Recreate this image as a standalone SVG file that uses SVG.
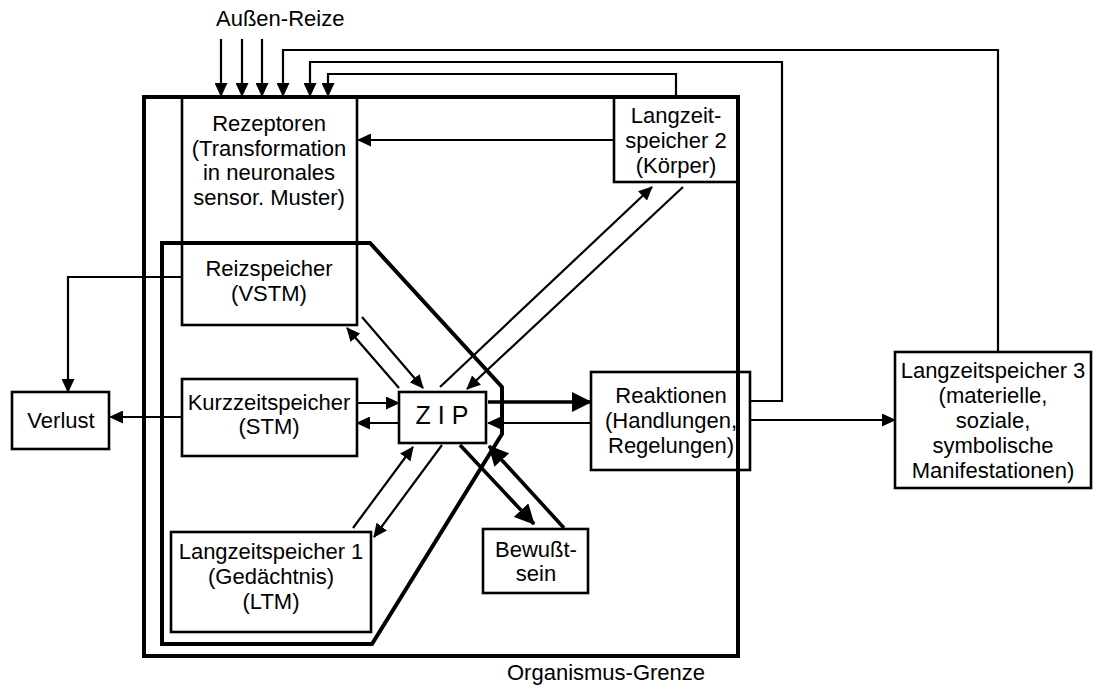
<svg xmlns="http://www.w3.org/2000/svg" width="1097" height="686" viewBox="0 0 1097 686">
  <style>
    text { font-family: "Liberation Sans", Arial, Helvetica, sans-serif; font-size: 22px; fill: #000; text-anchor: middle; }
    .box { fill: none; stroke: #000; stroke-width: 2.6; }
    .bound { fill: none; stroke: #000; stroke-width: 4; stroke-linejoin: miter; }
    .c { fill: none; stroke: #000; stroke-width: 2.2; marker-end: url(#ah); }
    .cn { fill: none; stroke: #000; stroke-width: 2.2; }
    .ct { fill: none; stroke: #000; stroke-width: 3.6; marker-end: url(#ahb); }
  </style>
  <defs>
    <marker id="ah" viewBox="0 0 14 13" refX="13" refY="6.5" markerWidth="14" markerHeight="13" markerUnits="userSpaceOnUse" orient="auto">
      <path d="M0,0 L14,6.5 L0,13 z" fill="#000"/>
    </marker>
    <marker id="ahb" viewBox="0 0 20 20" refX="19" refY="10" markerWidth="20" markerHeight="20" markerUnits="userSpaceOnUse" orient="auto">
      <path d="M0,0 L20,10 L0,20 z" fill="#000"/>
    </marker>
  </defs>
  <rect width="1097" height="686" fill="#fff"/>

  <!-- organism boundary and inner processing boundary -->
  <g id="boundaries">
    <rect class="bound" x="144" y="97" width="594" height="559"/>
    <polygon class="bound" points="162,243 370,243 502,387 502,434 372,644 162,644"/>
    <text x="507" y="680" style="text-anchor:start">Organismus-Grenze</text>
    <text x="216" y="26" style="text-anchor:start">Außen-Reize</text>
  </g>

  <g id="connectors">
    <!-- external stimuli -->
    <line class="c" x1="221" y1="39" x2="221" y2="96"/>
    <line class="c" x1="242" y1="39" x2="242" y2="96"/>
    <line class="c" x1="262" y1="39" x2="262" y2="96"/>
    <!-- feedback loops to receptors -->
    <polyline class="c" points="998,352 998,50 283,50 283,96"/>
    <polyline class="c" points="750,401 782,401 782,62 310,62 310,96"/>
    <polyline class="c" points="676,97 676,74 328,74 328,96"/>
    <line class="c" x1="614" y1="140" x2="358" y2="140"/>
    <!-- ZIP and body store -->
    <line class="c" x1="440" y1="387" x2="652" y2="187"/>
    <line class="c" x1="683" y1="187" x2="467" y2="389"/>
    <!-- losses -->
    <polyline class="c" points="182,277 68,277 68,392"/>
    <line class="c" x1="182" y1="417" x2="110" y2="417"/>
    <!-- short-term store -->
    <line class="c" x1="357" y1="403" x2="399" y2="403"/>
    <line class="c" x1="399" y1="423" x2="357" y2="423"/>
    <!-- sensory store -->
    <line class="c" x1="399" y1="388" x2="347" y2="328"/>
    <line class="c" x1="362" y1="317" x2="423" y2="388"/>
    <!-- reactions -->
    <line class="ct" x1="488" y1="402" x2="591" y2="402"/>
    <line class="c" x1="591" y1="423" x2="488" y2="423"/>
    <line class="c" x1="750" y1="420" x2="895" y2="420"/>
    <!-- long-term store 1 -->
    <line class="c" x1="353" y1="528" x2="413" y2="447"/>
    <line class="c" x1="442" y1="445" x2="374" y2="537"/>
    <!-- consciousness -->
    <line class="ct" x1="460" y1="445" x2="534" y2="524"/>
    <line class="ct" x1="564" y1="528" x2="489" y2="446"/>
  </g>

  <g id="rezeptoren">
    <rect class="box" x="182" y="97" width="175" height="228"/>
    <text x="269" y="131">Rezeptoren</text>
    <text x="269" y="156">(Transformation</text>
    <text x="269" y="180">in neuronales</text>
    <text x="269" y="205">sensor. Muster)</text>
    <text x="269" y="276">Reizspeicher</text>
    <text x="269" y="301">(VSTM)</text>
  </g>

  <g id="kurzzeitspeicher">
    <rect class="box" x="182" y="379" width="175" height="77"/>
    <text x="269" y="410">Kurzzeitspeicher</text>
    <text x="269" y="434">(STM)</text>
  </g>

  <g id="langzeitspeicher1">
    <rect class="box" x="171" y="532" width="200" height="100"/>
    <text x="271" y="559">Langzeitspeicher 1</text>
    <text x="271" y="584">(Gedächtnis)</text>
    <text x="271" y="609">(LTM)</text>
  </g>

  <g id="zip">
    <rect class="box" x="399" y="392" width="87" height="51"/>
    <text x="442" y="424" style="font-size:25px">Z I P</text>
  </g>

  <g id="bewusstsein">
    <rect class="box" x="483" y="529" width="105" height="64"/>
    <text x="536" y="557">Bewußt-</text>
    <text x="536" y="581">sein</text>
  </g>

  <g id="reaktionen">
    <rect class="box" x="591" y="372" width="159" height="98"/>
    <text x="671" y="403">Reaktionen</text>
    <text x="671" y="428">(Handlungen,</text>
    <text x="671" y="453">Regelungen)</text>
  </g>

  <g id="langzeitspeicher2">
    <rect class="box" x="614" y="97" width="124" height="85"/>
    <text x="676" y="123">Langzeit-</text>
    <text x="676" y="148">speicher 2</text>
    <text x="676" y="173">(Körper)</text>
  </g>

  <g id="langzeitspeicher3">
    <rect class="box" x="895" y="352" width="196" height="136"/>
    <text x="993" y="378">Langzeitspeicher 3</text>
    <text x="993" y="403">(materielle,</text>
    <text x="993" y="428">soziale,</text>
    <text x="993" y="453">symbolische</text>
    <text x="993" y="478">Manifestationen)</text>
  </g>

  <g id="verlust">
    <rect class="box" x="12" y="392" width="97" height="57"/>
    <text x="61" y="428">Verlust</text>
  </g>
</svg>
